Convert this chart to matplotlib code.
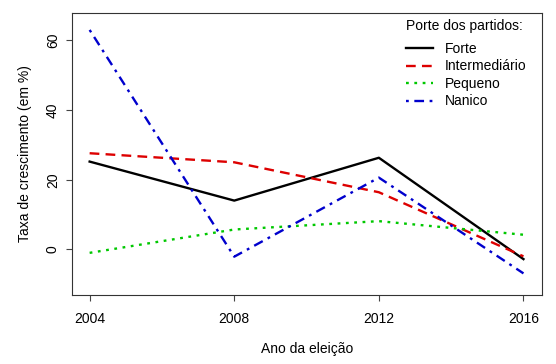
import matplotlib
matplotlib.use("Agg")
from matplotlib import pyplot as plt

# growth rate (%) per party size, by election year
anos = [2004, 2008, 2012, 2016]
forte = [25.2, 14.0, 26.3, -2.8]
intermediario = [27.6, 25.0, 16.4, -2.0]
pequeno = [-1.0, 5.7, 8.1, 4.2]
nanico = [63.0, -2.1, 20.6, -6.9]

series = [
    ("Forte", forte, "black", "-"),
    ("Intermediário", intermediario, "#DD0000", (0, (7, 4.5))),
    ("Pequeno", pequeno, "#00C800", (0, (2, 4))),
    ("Nanico", nanico, "#0000CD", (0, (2, 4, 7, 4))),
]

plt.rcParams["font.family"] = ["Liberation Sans", "DejaVu Sans"]
plt.rcParams["lines.scale_dashes"] = False

fs = 10
W, H = 556, 364
fig = plt.figure(figsize=(W / 100, H / 100), dpi=100)
ax = fig.add_axes([0.130, 0.1896, 0.844, 0.776])

for nome, vals, cor, estilo in series:
    ax.plot(anos, vals, color=cor, linestyle=estilo, linewidth=1.7, label=nome)

ax.set_xlim(2003.52, 2016.5)
ax.set_ylim(-13.1, 68.0)
ax.set_xticks(anos)
ax.set_yticks([0, 20, 40, 60])
ax.tick_params(axis="both", direction="out", length=4, width=0.8,
               labelsize=fs, color="#444444")
ax.tick_params(axis="x", pad=8)
ax.tick_params(axis="y", pad=5)
for lbl in ax.get_yticklabels():
    lbl.set_rotation(90)
    lbl.set_va("center")
for sp in ax.spines.values():
    sp.set_linewidth(0.8)
    sp.set_color("#333333")

ax.set_xlabel("Ano da eleição", fontsize=fs, labelpad=12)
ax.set_ylabel("Taxa de crescimento (em %)", fontsize=fs, labelpad=10)

# legend title and entries placed like R's legend()
fig.text(406 / W, 1 - 26 / H, "Porte dos partidos:", fontsize=fs,
         ha="left", va="center")
ax.legend(loc="upper left", bbox_to_anchor=(406 / W, 1 - 42 / H),
          bbox_transform=fig.transFigure, frameon=False, fontsize=fs,
          handlelength=1.95, borderaxespad=0, borderpad=0,
          labelspacing=0.25, handletextpad=0.86)

fig.savefig("out.png", dpi=100)
